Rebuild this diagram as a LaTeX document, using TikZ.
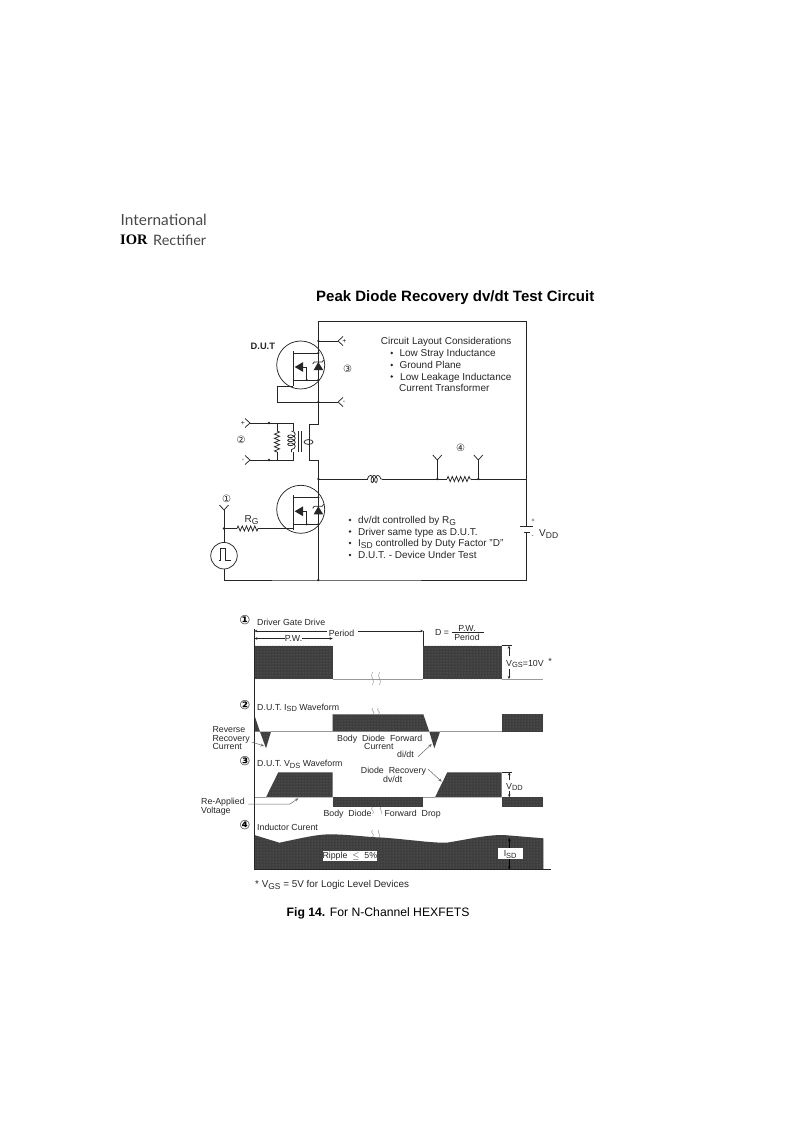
\documentclass[tikz,border=0pt]{standalone}
\usepackage{fontspec}
\setmainfont{Liberation Sans}
\newfontfamily\djv{DejaVu Sans}
\newfontfamily\logofont{Lato}
\newfontfamily\iorfont{Liberation Serif}
\usetikzlibrary{arrows.meta,patterns,decorations.pathmorphing}
\definecolor{ink}{HTML}{262626}
\definecolor{wave}{HTML}{3E3E3E}
\definecolor{tex}{HTML}{747474}
\definecolor{baseg}{HTML}{9A9A9A}
\newcommand{\lowsub}[1]{\raisebox{-.35ex}{\scalebox{.85}{#1}}}
\tikzset{
 wire/.style={draw=ink,line width=.75pt},
 thin wire/.style={draw=ink,line width=.5pt},
 lbltwo/.style={inner sep=0pt,text=ink,anchor=west,font=\fontsize{8.8}{9}\selectfont},
 lbl/.style={lbltwo,text height=6.4pt,text depth=0pt},
 circ/.style={inner sep=0pt,text=ink,anchor=west,text height=7pt,text depth=0pt,font=\fontsize{10}{11}\selectfont},
 smallnum/.style={inner sep=0pt,text=ink,font=\djv\fontsize{10}{10}\selectfont},
 bignum/.style={inner sep=0pt,text=black,font=\djv\bfseries\fontsize{12.5}{12.5}\selectfont},
 block/.style={fill=wave,preaction={fill=wave},pattern=dots,pattern color=tex},
 base/.style={draw=baseg,line width=.8pt},
 junction/.style={circle,fill=ink,inner sep=0pt,minimum size=2.6pt},
 dimtwo/.style={draw=ink,line width=.5pt},
 lead/.style={draw=ink!70,line width=.5pt,-{Stealth[length=3.5pt,width=2.8pt]}},
 brk/.style={draw=baseg,line width=.5pt},
 zig/.style={wire,decorate,decoration={zigzag,segment length=4.2pt,amplitude=2.6pt}},
 mosfet/.pic={
  \draw[wire] (0,0) circle (24);
  \draw[wire] (-7.7,-14) -- (-7.7,21);
  \draw[wire] (-7.7,-12) -- (17.6,-12);
  \draw[wire] (-7.7,15) -- (17.6,15);
  \draw[wire] (6,2) -- (6,15);
  \draw[wire] (2,2) -- (6,2);
  \fill[ink] (-6,2) -- (2.5,-3) -- (2.5,7) -- cycle;
  \fill[ink] (17.6,-3) -- (13,5) -- (22.5,5) -- cycle;
  \draw[wire] (12,-1) -- (13.5,-3) -- (21.5,-3) -- (23,-5);
  \fill[ink] (6,15) circle (1.2) (17.6,-12) circle (1.2) (17.6,15) circle (1.2);
 }
}
\newcommand{\tipL}{{Stealth[length=3pt,width=2.6pt]}-}
\newcommand{\tipR}{-{Stealth[length=3pt,width=2.6pt]}}
\begin{document}
\begin{tikzpicture}[x=1pt,y=-1pt]
\useasboundingbox (0,0) rectangle (793,1123);
% --- logo
\node[inner sep=0pt,anchor=west,text=ink!85,font=\logofont\fontsize{15.4}{18}\selectfont] (logoA) at (120.5,219.5) {International};
\node[inner sep=0pt,anchor=west,text=ink!85,font=\logofont\fontsize{14.4}{18}\selectfont] (logoB) at (153,240) {Rectifier};
\node[inner sep=0pt,anchor=west,text=black,font=\iorfont\bfseries\fontsize{14.5}{13}\selectfont] (logoC) at (120,240) {IOR};
% --- titles
\node[inner sep=0pt,anchor=west,text=black,font=\bfseries\fontsize{15}{15}\selectfont] (title) at (316,298) {Peak Diode Recovery dv/dt Test Circuit};
\node[inner sep=0pt,anchor=west,text=black,font=\fontsize{12.2}{12}\selectfont] (fig) at (286.5,913.5) {\textbf{Fig 14.} For N-Channel HEXFETS};
% --- circuit junctions
\coordinate (tl) at (318.3,321.7);
\coordinate (tr) at (526.7,321.7);
\coordinate (br) at (526.7,580);
\coordinate (bl) at (318.3,580);
\coordinate (mid) at (318.3,479);
\coordinate (midr) at (526.7,479);
\coordinate (plusT) at (318.3,341);
\coordinate (minusT) at (318.3,402);
\coordinate (secA) at (318.3,424);
\coordinate (secB) at (309,424);
\coordinate (secC) at (309,460);
\coordinate (secD) at (318.3,460);
\coordinate (plusF) at (338,341);
\coordinate (minusF) at (338,402);
\coordinate (t2a) at (250,423);
\coordinate (t2b) at (250,460);
\coordinate (pa) at (293,423);
\coordinate (pb) at (293,460);
\coordinate (ra) at (277,423);
\coordinate (rb) at (277,460);
\coordinate (l1) at (367.5,479);
\coordinate (l2) at (382,479);
\coordinate (r1) at (447,479);
\coordinate (r2) at (471,479);
\coordinate (p4a) at (437.3,479);
\coordinate (p4b) at (478.3,479);
\coordinate (f4a) at (437.3,460);
\coordinate (f4b) at (478.3,460);
\coordinate (gin) at (224,510);
\coordinate (gj) at (224,528.5);
\coordinate (rg1) at (237,528.5);
\coordinate (rg2) at (260,528.5);
\coordinate (gg) at (293,528.5);
\coordinate (bat1) at (526.7,526.7);
\coordinate (bat2) at (526.7,532.5);
\coordinate (loopG) at (293,386);
\coordinate (loopA) at (277.5,386);
\coordinate (loopB) at (277.5,402);
% wires
\draw[wire] (bat1) -- (midr) -- (tr) -- (tl) -- (secA) -- (secB) -- (secC) -- (secD) -- (bl);
\draw[wire] (bat2) -- (br) -- (bl) -- (224,580) -- (224,569);
\draw[wire] (mid) -- (l1);
\draw[wire] (l2) -- (r1);
\draw[wire] (r2) -- (midr);
\draw[wire] (plusT) -- (plusF);
\draw[wire] (loopG) -- (loopA) -- (loopB) -- (minusF);
\draw[wire] (p4a) -- (f4a);
\draw[wire] (p4b) -- (f4b);
\draw[wire] (t2a) -- (pa) -- (293,431);
\draw[wire] (t2b) -- (pb) -- (293,452);
\draw[wire] (ra) -- (277,431);
\draw[wire] (rb) -- (277,452);
\draw[zig] (277,431) -- (277,452);
\draw[zig] (r1) -- (r2);
\draw[zig] (rg1) -- (rg2);
\draw[wire] (gj) -- (rg1);
\draw[wire] (rg2) -- (gg);
\draw[wire] (gin) -- (224,542.7);
% forks
\foreach \a in {plusF,minusF}{\draw[wire] (\a) -- ++(5,-4.5) (\a) -- ++(5,4.5);}
\foreach \a in {t2a,t2b}{\draw[wire] (\a) -- ++(-5,-4.5) (\a) -- ++(-5,4.5);}
\foreach \a in {f4a,f4b,gin}{\draw[wire] (\a) -- ++(-4.5,-5) (\a) -- ++(4.5,-5);}
% transformer
\draw[wire,decorate,decoration={coil,aspect=.6,segment length=4pt,amplitude=3.8pt}] (291.5,431) -- (291.5,452);
\draw[wire] (298.5,431) -- (298.5,452) (301,431) -- (301,452);
\draw[wire] (308.5,442) ellipse (4.5 and 2.4);
% inductor
\draw[wire,decorate,decoration={coil,aspect=.6,segment length=3.6pt,amplitude=3.6pt}] (l1) -- (l2);
% battery
\draw[wire] (520,526.7) -- (533.4,526.7);
\draw[wire] (523.5,532.5) -- (530,532.5);
% mosfets
\pic at (300.7,365) {mosfet};
\pic at (300.7,509.3) {mosfet};
% source
\node[wire,circle,minimum size=26.5pt,inner sep=0pt] (src) at (224,555.7) {};
\draw[wire] (218.5,560) -- (220,560) -- (220,548.5) -- (225.5,548.5) -- (225.5,560) -- (230.7,560);
% dots
\foreach \p in {plusT,minusT,mid,bl,p4a,p4b,gj}{\node[junction] at (\p) {};}
\node[junction] at (269,423) {};
\node[junction] at (269,460) {};
% labels circuit
\node[inner sep=0pt,anchor=west,text=ink,font=\bfseries\fontsize{9.3}{9}\selectfont] (dut) at (250.5,346.7) {D.U.T};
\node[smallnum] (n3) at (347.7,369.3) {③};
\node[smallnum] (n2) at (241,440.3) {②};
\node[smallnum] (n4) at (460.7,447.7) {④};
\node[smallnum] (n1) at (226.5,499.3) {①};
\node[inner sep=0pt,text=ink,font=\fontsize{7}{7}\selectfont] (pp) at (344.5,341) {+};
\node[inner sep=0pt,text=ink,font=\fontsize{7}{7}\selectfont] (mm) at (344,402) {-};
\node[inner sep=0pt,text=ink,font=\fontsize{7}{7}\selectfont] (pp2) at (243,423) {+};
\node[inner sep=0pt,text=ink,font=\fontsize{7}{7}\selectfont] (mm2) at (243,460) {-};
\node[inner sep=0pt,text=ink,font=\fontsize{6}{6}\selectfont] (pp3) at (533,521) {+};
\node[inner sep=0pt,text=ink,font=\fontsize{6}{6}\selectfont] (mm3) at (532.5,537) {-};
\node[circ] (rg) at (244.5,519) {R\lowsub{G}};
\node[circ] (vdd) at (539,533) {V\lowsub{DD}};
\node[circ] (c0) at (380.7,341.3) {Circuit Layout Considerations};
\node[circ] (c1) at (399.3,353) {Low Stray Inductance};
\node[circ] (c2) at (399.3,365) {Ground Plane};
\node[circ] (c3) at (400,376.5) {Low Leakage Inductance};
\node[circ] (c4) at (399,388) {Current Transformer};
\node[circ] (d1) at (358,520) {dv/dt controlled by R\lowsub{G}};
\node[circ] (d2) at (358,531.5) {Driver same type as D.U.T.};
\node[circ] (d3) at (358,543) {I\lowsub{SD} controlled by Duty Factor "D"};
\node[circ] (d4) at (358,555) {D.U.T. - Device Under Test};
\foreach \x/\y in {391.7/353,391.7/365,391.7/376.5,350/520,350/531.5,350/543,350/555}{\fill[ink] (\x,\y) circle (1.3);}
% --- waveforms
\coordinate (ax1) at (254.3,629);
\coordinate (ax2) at (254.3,869.3);
\coordinate (axr) at (551,869.3);
% blocks
\fill[block] (254.3,645.7) rectangle (332.7,679);
\fill[block] (423.3,645.7) rectangle (501.7,679);
\fill[block] (254.3,715) -- (260,731.7) -- (254.3,731.7) -- cycle;
\fill[block] (260,731.7) -- (271,731.7) -- (266,748.3) -- cycle;
\fill[block] (332.7,714.3) -- (423.3,714.3) -- (429.3,731.7) -- (332.7,731.7) -- cycle;
\fill[block] (429.3,731.7) -- (440,731.7) -- (434.3,748.3) -- cycle;
\fill[block] (501.7,714.3) rectangle (543,731.7);
\fill[block] (266,797.3) -- (278.3,772.3) -- (332.7,772.3) -- (332.7,797.3) -- cycle;
\fill[block] (332.7,797.3) rectangle (422.7,806.7);
\fill[block] (435,797.3) -- (447.3,772.3) -- (501.7,772.3) -- (501.7,797.3) -- cycle;
\fill[block] (501.7,797.3) rectangle (543,806.7);
\fill[block] (254.3,835) -- (279.3,842.7) .. controls (300,838.5) and (315,834.5) .. (330,834.3) .. controls (350,834.5) and (365,837) .. (381,837.5) .. controls (405,839) and (430,843) .. (446.7,842.7) .. controls (470,839) and (485,835) .. (503.3,835) -- (543.3,838.3) -- (543.3,869.3) -- (254.3,869.3) -- cycle;
% base lines
\draw[base] (332.7,679) -- (423.3,679);
\draw[base] (501.7,679) -- (543,679);
\draw[base] (271,731.7) -- (332.7,731.7);
\draw[base] (440,731.7) -- (501.7,731.7);
\draw[base] (254.3,797.3) -- (266,797.3);
\draw[base] (422.7,797.3) -- (435,797.3);
% axis etc
\draw[wire] (ax1) -- (ax2) -- (axr);
\draw[thin wire] (423.3,631) -- (423.3,645.7);
\node[lbl,anchor=center] (period) at (341.5,633) {Period};
\coordinate (perR) at (358,631);
\coordinate (perL) at (327,631);
\coordinate (perE) at (423.3,631);
\coordinate (perS) at (254.3,631);
\draw[dimtwo,\tipR] (perR) -- (perE);
\draw[dimtwo,\tipL] (perS) -- (perL);
\node[lbl,anchor=center] (pw) at (293.5,638.5) {P.W.};
\coordinate (pwS) at (254.3,638.5);
\coordinate (pwE) at (332.7,638.5);
\draw[dimtwo,\tipL] (pwS) -- (pw.west);
\draw[dimtwo,\tipR] (pw.east) -- (pwE);
% ticks
\draw[thin wire] (501.7,645.7) -- (511.7,645.7);
\draw[thin wire] (501.7,772.3) -- (511.7,772.3);
\draw[dimtwo,\tipL] (509,645.7) -- (509,656);
\draw[dimtwo,\tipL] (509,679) -- (509,669);
\draw[dimtwo,\tipL] (509.3,772.3) -- (509.3,780);
\draw[dimtwo,\tipL] (509.3,797.3) -- (509.3,791);
% break marks
\foreach \x/\y/\h in {372.5/672/13,379.5/672/13,373/708/6,378.5/708/6,372.5/807/7,381/807/7,372.5/830/7,379/830/7}{
 \draw[brk] (\x,\y) .. controls (\x-3.5,\y+.4*\h) and (\x+3.5,\y+.6*\h) .. (\x,\y+\h);
}
% numbers
\node[bignum] (b1) at (245,620) {①};
\node[bignum] (b2) at (245,705) {②};
\node[bignum] (b3) at (245,761) {③};
\node[bignum] (b4) at (245,825) {④};
% waveform labels
\node[lbl] (w1) at (257,622) {Driver Gate Drive};
\node[lbl] (w2) at (257,707) {D.U.T. I\lowsub{SD} Waveform};
\node[lbl] (w3) at (257,763.5) {D.U.T. V\lowsub{DS} Waveform};
\node[lbl] (w4) at (257,827) {Inductor Curent};
\node[lbl] (dd) at (435,632.7) {D =};
\node[lbl,anchor=center] (fn) at (467,628) {P.W.};
\node[lbl,anchor=center] (fd) at (467,637.7) {Period};
\draw[thin wire] (451.7,632.5) -- (484,632.5);
\node[lbl] (vgs) at (506,663) {V\lowsub{GS}=10V};
\node[inner sep=0pt,text=ink,font=\fontsize{9}{9}\selectfont] (star) at (550,661) {*};
\node[lbltwo,align=left] (rev) at (212.3,738.3) {Reverse\\[-.6pt]Recovery\\[-.6pt]Current};
\coordinate (revA) at (251.7,742);
\coordinate (revB) at (264,746);
\draw[lead] (revA) -- (revB);
\node[lbl] (bd) at (337,738.3) {Body~~Diode~~Forward};
\node[lbl] (cur) at (364,746) {Current};
\node[lbl] (didt) at (397,754) {di/dt};
\coordinate (didtA) at (418,756.7);
\coordinate (didtB) at (431.7,744);
\draw[lead] (didtA) -- (didtB);
\node[lbl] (dr) at (360.7,770.7) {Diode~~Recovery};
\node[lbl,anchor=center] (dv) at (392.7,779) {dv/dt};
\coordinate (drA) at (428.3,769.3);
\coordinate (drB) at (441.7,781.7);
\draw[lead] (drA) -- (drB);
\node[lbl] (vds) at (506,786) {V\lowsub{DD}};
\node[lbltwo,align=left] (re) at (201,806.8) {Re-Applied\\[-.6pt]Voltage};
\coordinate (reA) at (248.3,804);
\coordinate (reB) at (290,804);
\coordinate (reC) at (298.3,798.3);
\draw[lead] (reA) -- (reB) -- (reC);
\node[lbl] (bd2) at (323.3,813.3) {Body~~Diode};
\node[lbl] (fd2) at (384.3,813.5) {Forward~~Drop};
\node[lbl,fill=white,minimum height=10pt,minimum width=52pt,anchor=west] (rip) at (322.3,855.7) {Ripple~~$\leq$~~5\%};
\node[lbl,fill=white,minimum height=11.3pt,minimum width=25pt,anchor=center] (isd) at (510.2,853.3) {I\lowsub{SD}};
\coordinate (isdT) at (509.3,838);
\coordinate (isdB) at (509.3,869.3);
\draw[dimtwo,\tipL,draw=black] (isdT) -- (509.3,847.7);
\draw[dimtwo,\tipL,draw=black] (isdB) -- (509.3,859);
\node[lbl,font=\fontsize{9.9}{10}\selectfont] (foot) at (255,884) {* V\lowsub{GS} = 5V for Logic Level Devices};
\end{tikzpicture}
\end{document}
